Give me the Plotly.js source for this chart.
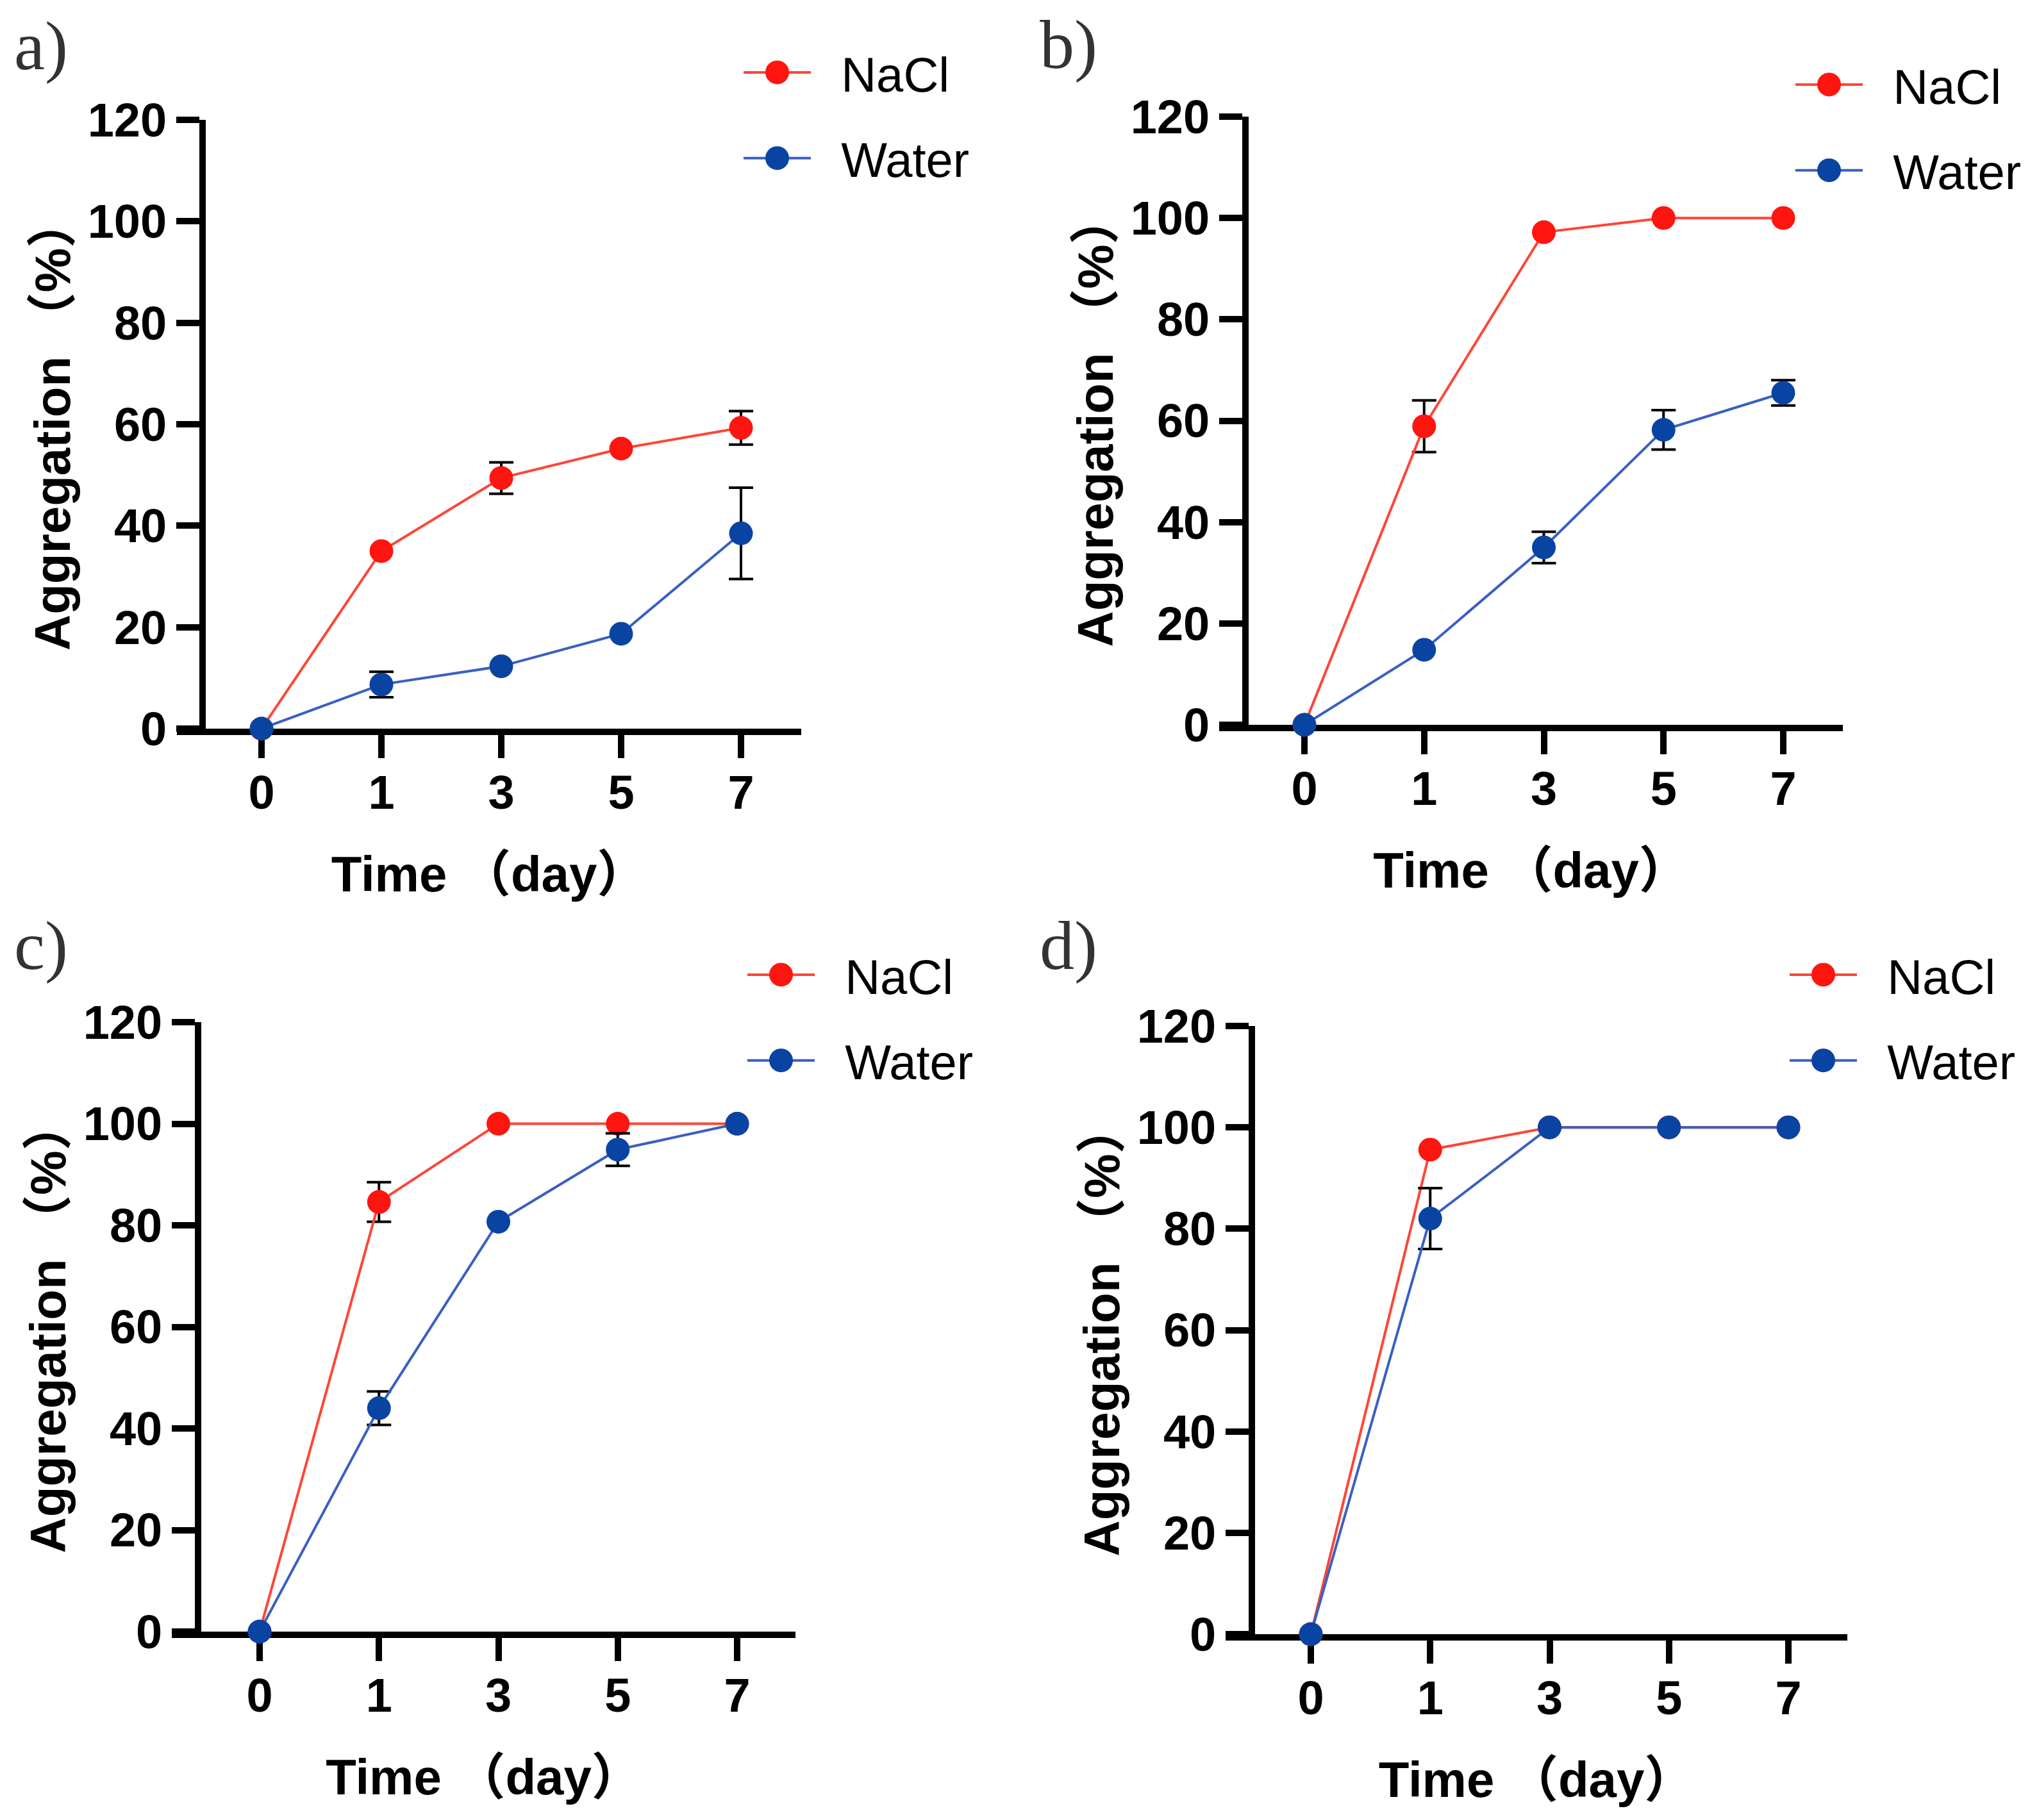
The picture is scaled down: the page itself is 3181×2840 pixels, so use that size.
<!DOCTYPE html>
<html>
<head>
<meta charset="utf-8">
<script src="https://cdn.plot.ly/plotly-3.0.1.min.js"></script>
<style>
  html, body { margin: 0; padding: 0; background: #fff; }
  #chart { width: 3181px; height: 2840px; }
</style>
</head>
<body>
<div id="chart"></div>
<script>
/* ---- data ---- */
const DAYS = ["0", "1", "3", "5", "7"];
const Y_TICKS = [0, 20, 40, 60, 80, 100, 120];
const PANEL_LABELS = ["a)", "b)", "c)", "d)"];
const SERIES_NAMES = ["NaCl", "Water"];
const X_TITLE = "\u00a0\u00a0Time\u00a0（day）";
const Y_TITLE = "Aggregation\u00a0（%）";

const NACL_A = [0, 35.0, 49.4, 55.2, 59.3];
const NACL_A_ERR = [NaN, NaN, 3.1, NaN, 3.3];
const WATER_A = [0, 8.7, 12.3, 18.7, 38.5];
const WATER_A_ERR = [NaN, 2.5, NaN, NaN, 9.0];

const NACL_B = [0, 58.9, 97.2, 100, 100];
const NACL_B_ERR = [NaN, 5.1, NaN, NaN, NaN];
const WATER_B = [0, 14.8, 35.0, 58.2, 65.5];
const WATER_B_ERR = [NaN, NaN, 3.1, 3.9, 2.5];

const NACL_C = [0, 84.6, 100, 100, 100];
const NACL_C_ERR = [NaN, 3.9, NaN, NaN, NaN];
const WATER_C = [0, 44.0, 80.7, 94.9, 100];
const WATER_C_ERR = [NaN, 3.3, NaN, 3.2, NaN];

const NACL_D = [0, 95.6, 100, 100, 100];
const NACL_D_ERR = [NaN, NaN, NaN, NaN, NaN];
const WATER_D = [0, 82.0, 100, 100, 100];
const WATER_D_ERR = [NaN, 6.0, NaN, NaN, NaN];

/* ---- page geometry (px of the 3181 x 2840 figure) ---- */
const W = 3181, H = 2840;
const PANELS = [
  { nacl: NACL_A, naclErr: NACL_A_ERR, water: WATER_A, waterErr: WATER_A_ERR,
    yAxisX: 316, xLeft: 276, xRight: 1250, cat0: 408, step: 187, yTop: 187, yBot: 1137,
    label: [20, 72], legend: [1155, 180] },
  { nacl: NACL_B, naclErr: NACL_B_ERR, water: WATER_B, waterErr: WATER_B_ERR,
    yAxisX: 1943, xLeft: 1902, xRight: 2875, cat0: 2035, step: 186.75, yTop: 182, yBot: 1131,
    label: [1620, 70], legend: [2796, 199] },
  { nacl: NACL_C, naclErr: NACL_C_ERR, water: WATER_C, waterErr: WATER_C_ERR,
    yAxisX: 309, xLeft: 268, xRight: 1241, cat0: 405, step: 186.25, yTop: 1595, yBot: 2546,
    label: [20, 1476], legend: [1161, 1588] },
  { nacl: NACL_D, naclErr: NACL_D_ERR, water: WATER_D, waterErr: WATER_D_ERR,
    yAxisX: 1953, xLeft: 1912, xRight: 2882, cat0: 2045, step: 186.25, yTop: 1601, yBot: 2550,
    label: [1620, 1476], legend: [2787, 1588] },
];

const NACL_MARKER = "#ff1510";
const NACL_LINE = "#ff4536";
const WATER_MARKER = "#0a44a3";
const WATER_LINE = "#3b5fc2";
const LEGEND_MARKER_R = 18.5;
const LEGEND_PAD = "\u00a0\u00a0";

const SANS = "'Liberation Sans', Arial, 'Noto Sans CJK SC', sans-serif";
const SERIF = "'Liberation Serif', 'Times New Roman', serif";

/* ---- build traces and layout ---- */
const traces = [];
const layout = {
  width: W,
  height: H,
  margin: { l: 0, r: 0, t: 0, b: 0 },
  paper_bgcolor: "#fff",
  plot_bgcolor: "rgba(0,0,0,0)",
  showlegend: true,
  annotations: [],
  font: { family: SANS, color: "#000" },
};

function makeTrace(name, ys, errs, lineColor, markerColor, idx) {
  const suffix = idx === 0 ? "" : String(idx + 1);
  return {
    type: "scatter",
    mode: "lines+markers",
    name: LEGEND_PAD + name,
    x: DAYS,
    y: ys,
    xaxis: "x" + suffix,
    yaxis: "y" + suffix,
    legend: "legend" + suffix,
    legendgroup: name + idx,
    cliponaxis: false,
    line: { color: lineColor, width: 4 },
    marker: { color: markerColor, size: 37 },
    error_y: { type: "data", array: errs, visible: true, color: "#000", thickness: 4, width: 19 },
    hoverinfo: "x+y",
  };
}

PANELS.forEach((p, i) => {
  const suffix = i === 0 ? "" : String(i + 1);
  traces.push(makeTrace(SERIES_NAMES[0], p.nacl, p.naclErr, NACL_LINE, NACL_MARKER, i));
  traces.push(makeTrace(SERIES_NAMES[1], p.water, p.waterErr, WATER_LINE, WATER_MARKER, i));

  const axisCommon = {
    showline: true,
    linecolor: "#000",
    linewidth: 10,
    ticks: "outside",
    ticklen: 36,
    tickwidth: 10,
    tickcolor: "#000",
    showgrid: false,
    zeroline: false,
    layer: "below traces",
    tickfont: { family: SANS, size: 74, weight: 700, color: "#000" },
  };

  layout["xaxis" + suffix] = Object.assign({}, axisCommon, {
    domain: [p.xLeft / W, p.xRight / W],
    anchor: "y" + suffix,
    type: "category",
    categoryorder: "array",
    categoryarray: DAYS,
    range: [(p.xLeft - p.cat0) / p.step, (p.xRight - p.cat0) / p.step],
    ticklabelstandoff: -10,
    title: { text: X_TITLE, font: { family: SANS, size: 78, weight: 700, color: "#000" }, standoff: 64 },
  });

  layout["yaxis" + suffix] = Object.assign({}, axisCommon, {
    domain: [(H - p.yBot) / H, (H - p.yTop) / H],
    anchor: "free",
    position: p.yAxisX / W,
    range: [0, 120],
    tickvals: Y_TICKS,
    ticklabelstandoff: 0,
    title: { text: Y_TITLE, font: { family: SANS, size: 78, weight: 700, color: "#000" }, standoff: 0 },
  });

  layout["legend" + suffix] = {
    x: p.legend[0] / W,
    y: (H - p.legend[1]) / H,
    xanchor: "left",
    yanchor: "middle",
    xref: "paper",
    yref: "paper",
    bgcolor: "rgba(0,0,0,0)",
    borderwidth: 0,
    itemwidth: 105,
    itemsizing: "trace",
    traceorder: "grouped",
    tracegroupgap: 32,
    font: { family: SANS, size: 76, color: "#000" },
  };

  layout.annotations.push({
    text: PANEL_LABELS[i],
    xref: "paper",
    yref: "paper",
    x: p.label[0] / W,
    y: (H - p.label[1]) / H,
    xanchor: "left",
    yanchor: "middle",
    showarrow: false,
    font: { family: SERIF, size: 108, color: "#333" },
  });
});

Plotly.newPlot("chart", traces, layout, { displayModeBar: false, staticPlot: true }).then((gd) => {
  // legend symbols are capped at 16 px by plotly; enlarge them to match the plot markers
  const r = LEGEND_MARKER_R;
  gd.querySelectorAll(".legendpoints path.scatterpts").forEach((pt) => {
    pt.setAttribute("d", `M${r},0A${r},${r} 0 1,1 0,-${r}A${r},${r} 0 0,1 ${r},0Z`);
  });
});
</script>
</body>
</html>
